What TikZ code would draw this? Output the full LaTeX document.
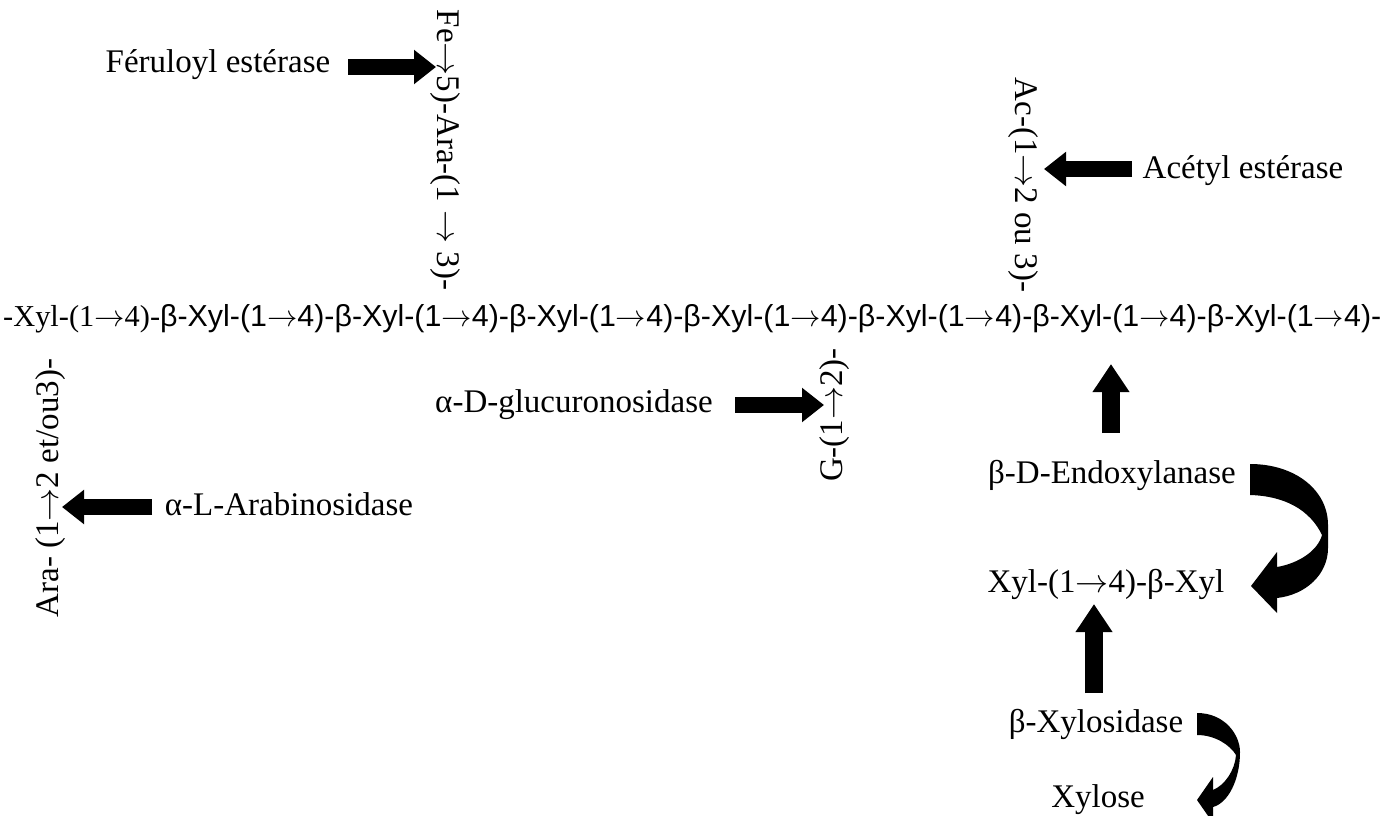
\RequirePackage{fix-cm}
\documentclass[tikz,border=0pt]{standalone}
\usepackage{fontspec}
\setmainfont{Liberation Serif}
\newfontfamily\chainsf{Liberation Sans}
\usetikzlibrary{arrows.meta}
\newcommand\myarr{\ensuremath{\rightarrow}}
\begin{document}
\begin{tikzpicture}[x=1pt,y=-1pt,
  lbl/.style={font=\fontsize{33}{40}\selectfont, inner sep=0pt, anchor=base},
  blk/.style={line width=16pt, -{Triangle[length=22pt,width=33pt]}},
  blkv/.style={line width=18pt, -{Triangle[length=28pt,width=35pt]}},
  bent/.style={fill=black}]
\useasboundingbox (0,0) rectangle (1384,816);

% main chain
\node[inner sep=0pt, anchor=base west] (chain) at (3,326)
  {\resizebox{1378pt}{!}{\fontsize{28}{34}\selectfont -Xyl-(1\myarr4)-\chainsf β-Xyl-(1\myarr4)-β-Xyl-(1\myarr4)-β-Xyl-(1\myarr4)-β-Xyl-(1\myarr4)-β-Xyl-(1\myarr4)-β-Xyl-(1\myarr4)-β-Xyl-(1\myarr4)-}};

% side chains
\node[lbl, rotate=-90] (fe) at (437,150) {Fe\myarr5)-Ara-(1 \myarr{} 3)-};
\node[lbl, rotate=-90] (ac) at (1015,185) {Ac-(1\myarr2 ou 3)-};
\node[lbl, rotate=90] (ara) at (58,488) {Ara- (1\myarr2 et/ou3)-};
\node[lbl, rotate=90] (g) at (842,415) {G-(1\myarr2)-};

% enzyme labels
\node[lbl] (fer) at (218,73) {Féruloyl estérase};
\node[lbl] (acet) at (1243,178) {Acétyl estérase};
\node[lbl] (glu) at (574,412) {α-D-glucuronosidase};
\node[lbl] (arab) at (289,515) {α-L-Arabinosidase};
\node[lbl] (endo) at (1112,483) {β-D-Endoxylanase};
\node[lbl] (xx) at (1106,592) {Xyl-(1\myarr4)-β-Xyl};
\node[lbl] (bxyl) at (1096,732) {β-Xylosidase};
\node[lbl] (xylose) at (1098,807) {Xylose};

% straight block arrows
\coordinate (ferS) at (348,67);   \coordinate (ferT) at (436,67);
\coordinate (acS) at (1132,169);  \coordinate (acT) at (1044,169);
\coordinate (glS) at (735,405);   \coordinate (glT) at (824,405);
\coordinate (arS) at (152,507);   \coordinate (arT) at (62,507);
\coordinate (u1S) at (1111,433);  \coordinate (u1T) at (1111,364);
\coordinate (u2S) at (1094,693);  \coordinate (u2T) at (1094,604);
\draw[blk] (ferS) -- (ferT);
\draw[blk] (acS) -- (acT);
\draw[blk] (glS) -- (glT);
\draw[blk] (arS) -- (arT);
\draw[blkv] (u1S) -- (u1T);
\draw[blkv] (u2S) -- (u2T);

% curved arrows
\fill[bent] (1250,464) .. controls (1295,464) and (1328,490) .. (1328,525)
  -- (1328,548) .. controls (1328,575) and (1305,595) .. (1277,598)
  -- (1277,613) -- (1251,586) -- (1277,552) -- (1277,567)
  .. controls (1300,563) and (1318,550) .. (1322,535)
  .. controls (1310,510) and (1285,496) .. (1250,495) -- cycle;
\fill[bent] (1197,713) .. controls (1225,713) and (1240,735) .. (1240,752)
  .. controls (1240,780) and (1228,803) .. (1213,807)
  -- (1213,823) -- (1197,800) -- (1213,777) -- (1213,790)
  .. controls (1225,785) and (1235,770) .. (1236,755)
  .. controls (1230,745) and (1215,735) .. (1197,735) -- cycle;
\end{tikzpicture}
\end{document}
